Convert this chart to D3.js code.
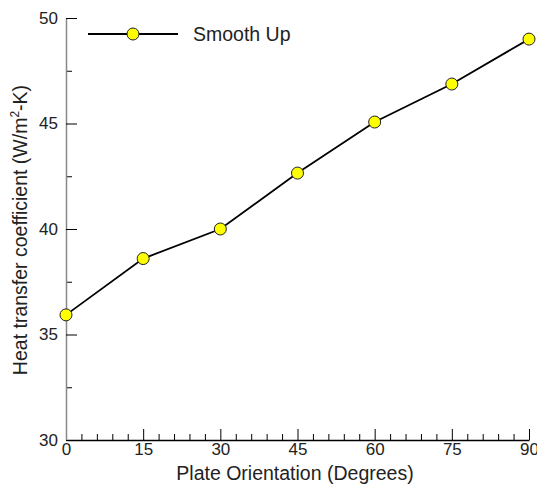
<!DOCTYPE html>
<html>
<head>
<meta charset="utf-8">
<script src="https://cdn.jsdelivr.net/npm/d3@7"></script>
<style>
  body { margin: 0; background: #fff; }
  text { font-family: "Liberation Sans", Arial, sans-serif; fill: #222; }
</style>
</head>
<body>
<div id="chart"></div>
<script>
const width = 537;
const height = 486;

// data
const angles = [0, 15, 30, 45, 60, 75, 90];
const htc = [35.93, 38.6, 40.0, 42.65, 45.07, 46.87, 49.0];
const xTicks = [0, 15, 30, 45, 60, 75, 90];
const yTicks = [30, 35, 40, 45, 50];
const seriesName = "Smooth Up";

const margin = {top: 18, right: 8, bottom: 46, left: 66};
const plotW = width - margin.left - margin.right;
const plotH = height - margin.top - margin.bottom;

const svg = d3.select("#chart")
    .append("svg")
    .attr("width", width)
    .attr("height", height);

const g = svg.append("g")
    .attr("transform", `translate(${margin.left},${margin.top})`);

const x = d3.scaleLinear().domain([0, 90]).range([0, plotW]);
const y = d3.scaleLinear().domain([30, 50]).range([plotH, 0]);

// bottom axis: minor ticks every 3, major every 15, pointing inward
const xMinor = d3.range(0, 91, 3).filter(v => v % 15 !== 0);
g.append("g")
    .attr("transform", `translate(0,${plotH})`)
    .call(d3.axisBottom(x).tickValues(xMinor).tickSize(-6).tickFormat(""))
    .call(a => a.select(".domain").remove());
g.append("g")
    .attr("transform", `translate(0,${plotH})`)
    .call(d3.axisBottom(x).tickValues(xTicks).tickSize(-11).tickSizeOuter(0).tickPadding(3))
    .call(a => a.select(".domain").attr("stroke", "#000").attr("stroke-width", 1.5))
    .call(a => a.selectAll("text").attr("font-size", 17));

// left axis
const yMinor = d3.range(32.5, 50, 5);
g.append("g")
    .call(d3.axisLeft(y).tickValues(yMinor).tickSize(-6).tickFormat(""))
    .call(a => a.select(".domain").remove());
g.append("g")
    .call(d3.axisLeft(y).tickValues(yTicks).tickSize(-11).tickSizeOuter(0).tickPadding(8))
    .call(a => a.select(".domain").attr("stroke", "#888").attr("stroke-width", 1.5))
    .call(a => a.selectAll("text").attr("font-size", 17));

// line + markers
const pts = angles.map((a, i) => ({a: a, v: htc[i]}));
g.append("path")
    .datum(pts)
    .attr("fill", "none")
    .attr("stroke", "#000")
    .attr("stroke-width", 1.8)
    .attr("d", d3.line().x(d => x(d.a)).y(d => y(d.v)));

g.selectAll("circle.pt")
    .data(pts)
    .enter()
    .append("circle")
    .attr("class", "pt")
    .attr("cx", d => x(d.a))
    .attr("cy", d => y(d.v))
    .attr("r", 6)
    .attr("fill", "#ffff00")
    .attr("stroke", "#222")
    .attr("stroke-width", 1);

// legend
const leg = svg.append("g").attr("transform", "translate(88,34)");
leg.append("line").attr("x1", 0).attr("x2", 90).attr("stroke", "#000").attr("stroke-width", 1.8);
leg.append("circle").attr("cx", 45).attr("r", 6)
    .attr("fill", "#ffff00").attr("stroke", "#222");
leg.append("text").attr("x", 105).attr("dy", "0.35em")
    .attr("font-size", 19.5).text(seriesName);

// axis titles
svg.append("text")
    .attr("x", 295)
    .attr("y", 480)
    .attr("text-anchor", "middle")
    .attr("font-size", 19.5)
    .text("Plate Orientation (Degrees)");

const yt = svg.append("text")
    .attr("transform", `translate(27,230) rotate(-90)`)
    .attr("text-anchor", "middle")
    .attr("font-size", 19.5);
yt.append("tspan").text("Heat transfer coefficient (W/m");
yt.append("tspan").attr("font-size", 12).attr("dy", "-0.7em").text("2");
yt.append("tspan").attr("dy", "0.45em").text("-K)");
</script>
</body>
</html>
